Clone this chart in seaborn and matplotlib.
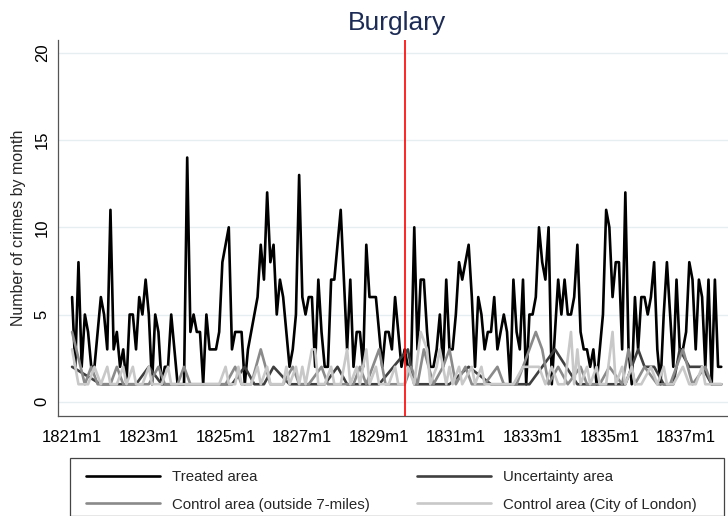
import matplotlib
matplotlib.use("Agg")
import matplotlib.pyplot as plt
from matplotlib.lines import Line2D
from matplotlib.patches import Rectangle
import numpy as np
import pandas as pd
import seaborn as sns

# Monthly burglary counts, months indexed from 1821m1 = 0
treated = [
    6, 2, 8, 2, 5, 4, 2, 2, 4, 6, 5, 3, 11, 3, 4, 2, 3, 1, 5, 5,
    3, 6, 5, 7, 5, 1, 5, 4, 1, 2, 2, 5, 3, 1, 1, 1, 14, 4, 5, 4,
    4, 1, 5, 3, 3, 3, 4, 8, 9, 10, 3, 4, 4, 4, 1, 3, 4, 5, 6, 9,
    7, 12, 8, 9, 5, 7, 6, 4, 2, 3, 5, 13, 6, 5, 6, 6, 2, 7, 4, 2,
    2, 7, 7, 9, 11, 7, 3, 7, 2, 4, 4, 2, 9, 6, 6, 6, 4, 2, 4, 4,
    3, 6, 4, 2, 3, 2, 2, 10, 3, 7, 7, 4, 2, 2, 3, 5, 2, 7, 3, 3,
    5, 8, 7, 8, 9, 6, 2, 6, 5, 3, 4, 4, 6, 3, 4, 5, 4, 1, 7, 4,
    3, 7, 1, 5, 5, 6, 10, 8, 7, 10, 1, 4, 7, 5, 7, 5, 5, 6, 9, 4,
    3, 3, 2, 3, 1, 3, 5, 11, 10, 6, 8, 8, 3, 12, 3, 1, 6, 3, 6, 6,
    5, 6, 8, 3, 1, 5, 8, 5, 2, 7, 3, 3, 4, 8, 7, 3, 7, 6, 2, 7,
    1, 7, 2, 2,
]

# (month, count) for months with recorded burglaries; other months are empty
uncertainty_obs = [
    (0, 2), (9, 1), (14, 1), (20, 1), (24, 2), (28, 1), (33, 1), (40, 1),
    (46, 1), (50, 1), (54, 2), (57, 1), (60, 1), (63, 2), (68, 1), (72, 1),
    (79, 1), (83, 2), (86, 1), (90, 1), (96, 1), (105, 3), (107, 1), (112, 1),
    (118, 1), (124, 2), (131, 1), (137, 1), (143, 1), (151, 3), (158, 1),
    (163, 1), (168, 1), (173, 1), (177, 3), (179, 2), (182, 2), (185, 1),
    (188, 1), (190, 3), (193, 2), (197, 2), (200, 1), (203, 1),
]
outside_obs = [
    (0, 4), (4, 1), (6, 2), (8, 1), (12, 1), (14, 2), (16, 1), (20, 1),
    (24, 1), (27, 2), (29, 1), (33, 1), (35, 2), (37, 1), (42, 1), (48, 1),
    (51, 2), (53, 1), (56, 1), (59, 3), (62, 1), (66, 1), (69, 2), (71, 1),
    (74, 1), (78, 2), (80, 1), (84, 1), (88, 1), (90, 2), (92, 1), (96, 3),
    (98, 1), (102, 1), (104, 1), (106, 2), (108, 1), (110, 3), (113, 1),
    (116, 2), (118, 3), (120, 1), (123, 2), (125, 1), (129, 1), (133, 2),
    (135, 1), (139, 1), (145, 4), (147, 3), (149, 1), (152, 2), (155, 1),
    (159, 2), (161, 1), (165, 1), (168, 2), (172, 1), (174, 3), (176, 1),
    (179, 2), (183, 1), (187, 1), (191, 3), (194, 1), (198, 2), (200, 1),
    (203, 1),
]
city_obs = [
    (0, 3), (2, 1), (5, 1), (7, 2), (9, 1), (11, 2), (12, 1), (14, 1),
    (16, 2), (17, 1), (19, 2), (20, 1), (22, 1), (24, 2), (25, 1), (28, 1),
    (30, 2), (31, 1), (33, 1), (36, 1), (44, 1), (46, 1), (48, 2), (49, 1),
    (51, 1), (52, 2), (53, 1), (56, 1), (58, 2), (59, 1), (61, 2), (62, 1),
    (66, 1), (67, 2), (68, 1), (70, 2), (71, 1), (72, 2), (73, 1), (75, 3),
    (76, 3), (77, 1), (79, 1), (81, 2), (82, 1), (84, 1), (86, 3), (87, 1),
    (89, 2), (90, 1), (92, 3), (93, 1), (95, 2), (96, 1), (99, 1), (101, 2),
    (102, 1), (104, 1), (105, 2), (107, 1), (109, 4), (111, 3), (112, 1),
    (114, 2), (115, 3), (117, 1), (118, 2), (119, 1), (121, 2), (122, 1),
    (125, 2), (126, 1), (128, 2), (129, 1), (131, 1), (134, 1), (136, 1),
    (138, 1), (141, 2), (146, 2), (148, 1), (150, 2), (152, 1), (154, 1),
    (156, 4), (157, 1), (158, 3), (159, 1), (161, 2), (162, 1), (164, 2),
    (165, 1), (167, 1), (169, 4), (170, 1), (172, 2), (173, 1), (175, 2),
    (176, 1), (178, 1), (181, 2), (183, 1), (185, 2), (186, 1), (188, 1),
    (191, 2), (193, 1), (195, 1), (197, 2), (198, 1), (201, 1), (203, 1),
]

tick_months = [0, 24, 48, 72, 96, 120, 144, 168, 192]
tick_labels = ["1821m1", "1823m1", "1825m1", "1827m1", "1829m1",
               "1831m1", "1833m1", "1835m1", "1837m1"]
police_month = 104  # 1829m9
y_ticks = [0, 5, 10, 15, 20]

series_names = ["Treated area", "Uncertainty area",
                "Control area (outside 7-miles)", "Control area (City of London)"]
series_colors = ["#000000", "#3f3f3f", "#8a8a8a", "#c8c8c8"]

sns.set_theme(style="white")
plt.rcParams["font.family"] = ["Liberation Sans", "DejaVu Sans"]

frames = [pd.DataFrame({"month": np.arange(len(treated)), "count": treated})]
for obs in (uncertainty_obs, outside_obs, city_obs):
    m, c = zip(*obs)
    frames.append(pd.DataFrame({"month": m, "count": c}))

W, H = 728, 516
fig = plt.figure(figsize=(W / 100, H / 100), dpi=100)
ax = fig.add_axes([58 / W, 100 / H, 670 / W, 376 / H])

for yv in y_ticks:
    ax.axhline(yv, color="#e6eef1", lw=1.0, zorder=0)

for df, name, col in zip(frames, series_names, series_colors):
    sns.lineplot(data=df, x="month", y="count", color=col, lw=1.9,
                 ax=ax, label=name, legend=False, zorder=3)

ax.axvline(police_month, color="#ff0000", lw=1.2, zorder=5)

ax.set_xlim(-4.4, 205.1)
ax.set_ylim(-0.82, 20.74)
ax.set_xticks(tick_months)
ax.set_xticklabels(tick_labels)
ax.set_yticks(y_ticks)
ax.set_yticklabels([str(v) for v in y_ticks], rotation=90, va="center")
ax.tick_params(axis="both", direction="out", length=5, width=0.9,
               color="#555555", labelsize=12, labelcolor="#000000")
ax.tick_params(axis="x", pad=5)
ax.tick_params(axis="y", pad=1)
ax.set_xlabel("")
ax.set_ylabel("Number of crimes by month", fontsize=11.5, labelpad=6)

for side in ("top", "right"):
    ax.spines[side].set_visible(False)
for side in ("left", "bottom"):
    ax.spines[side].set_color("#555555")
    ax.spines[side].set_linewidth(0.9)

fig.text(397 / W, 1 - 23 / H, "Burglary", ha="center", va="center",
         fontsize=19, color="#1c2b55")

# Legend: two rows, two columns, inside a plain box below the axes
fig.patches.append(Rectangle((70 / W, 0.5 / H), 654 / W, 57.5 / H,
                             transform=fig.transFigure, fill=False,
                             edgecolor="#444444", lw=0.9))
handles = [Line2D([], [], color=c, lw=1.9) for c in series_colors]
order = [0, 2, 1, 3]
fig.legend([handles[i] for i in order], [series_names[i] for i in order],
           ncol=2, loc="upper left",
           bbox_to_anchor=(86 / W, 1 - 470 / H),
           borderaxespad=0, borderpad=0, fontsize=10.8,
           handlelength=4.9, handletextpad=0.8, labelspacing=0.9,
           columnspacing=3.2, frameon=False)

fig.savefig("out.png", dpi=100, facecolor="white")
